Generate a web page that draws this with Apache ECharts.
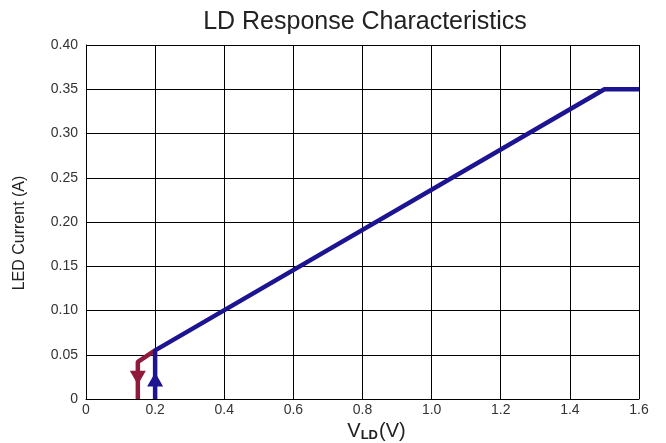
<!DOCTYPE html>
<html>
<head>
<meta charset="utf-8">
<script src="https://cdn.jsdelivr.net/npm/echarts@6/dist/echarts.min.js"></script>
<style>
  html, body { margin: 0; padding: 0; background: #fff; }
</style>
</head>
<body>
<div id="chart" style="width:666px;height:443px"></div>
<script>
// falling branch (red) and rising branch (blue)
const downVolt = [0.15, 0.15, 0.2]
const downCurr = [0, 0.042, 0.055]
const upVolt = [0.2, 0.2, 1.5, 1.6]
const upCurr = [0, 0.055, 0.35, 0.35]
// arrow markers on the vertical parts
const downArrow = [0.15, 0.024]
const upArrow = [0.2, 0.022]

const xTicks = [0, 0.2, 0.4, 0.6, 0.8, 1.0, 1.2, 1.4, 1.6]
const yTicks = [0, 0.05, 0.10, 0.15, 0.20, 0.25, 0.30, 0.35, 0.40]

const red = '#8e1b3b'
const blue = '#1c1490'
const font = 'Liberation Sans, Arial, sans-serif'

const chart = echarts.init(document.getElementById('chart'))
const option = {
  animation: false,
  textStyle: { fontFamily: font },
  title: {
    text: 'LD Response Characteristics',
    left: 360,
    textAlign: 'center',
    top: 5,
    textStyle: { fontFamily: font, fontSize: 25, fontWeight: 'normal', color: '#222' }
  },
  grid: { left: 86, right: 27, top: 45, bottom: 44, outerBoundsMode: 'none' },
  xAxis: {
    type: 'value',
    min: 0,
    max: xTicks[xTicks.length - 1],
    interval: 0.2,
    axisLine: { lineStyle: { color: '#000', width: 1 } },
    axisTick: { show: false },
    splitLine: { lineStyle: { color: '#000', width: 1 } },
    axisLabel: {
      color: '#333',
      fontSize: 14,
      margin: 4,
      formatter: v => v === 0 ? '0' : v.toFixed(1)
    },
    name: '{v|V}{s|LD}{v|(V)}',
    nameLocation: 'middle',
    nameGap: 19,
    nameTextStyle: {
      padding: [0, 0, 0, 28],
      rich: {
        v: { fontFamily: font, fontSize: 20, color: '#222' },
        s: { fontFamily: font, fontSize: 13, fontWeight: 'bold', color: '#222', verticalAlign: 'bottom', padding: [8, 1, 0, 0] }
      }
    }
  },
  yAxis: {
    type: 'value',
    min: 0,
    max: yTicks[yTicks.length - 1],
    interval: 0.05,
    axisLine: { show: true, lineStyle: { color: '#000', width: 1 } },
    axisTick: { show: false },
    splitLine: { lineStyle: { color: '#000', width: 1 } },
    axisLabel: {
      color: '#333',
      fontSize: 14,
      margin: 8,
      formatter: v => v === 0 ? '0' : v.toFixed(2)
    },
    name: 'LED Current (A)',
    nameLocation: 'middle',
    nameGap: 58,
    nameTextStyle: { fontFamily: font, fontSize: 16, color: '#222', padding: [0, 22, 0, 0] }
  },
  series: [
    {
      type: 'line',
      data: downVolt.map((v, i) => [v, downCurr[i]]),
      showSymbol: false,
      lineStyle: { color: red, width: 4.5 },
      z: 2
    },
    {
      type: 'line',
      data: upVolt.map((v, i) => [v, upCurr[i]]),
      showSymbol: false,
      lineStyle: { color: blue, width: 4.5 },
      z: 3
    },
    {
      type: 'scatter',
      data: [downArrow],
      symbol: 'triangle',
      symbolRotate: 180,
      symbolSize: [16, 14],
      itemStyle: { color: red, opacity: 1 },
      z: 4
    },
    {
      type: 'scatter',
      data: [upArrow],
      symbol: 'triangle',
      symbolSize: [16, 14],
      itemStyle: { color: blue, opacity: 1 },
      z: 4
    }
  ]
}
chart.setOption(option)
</script>
</body>
</html>
